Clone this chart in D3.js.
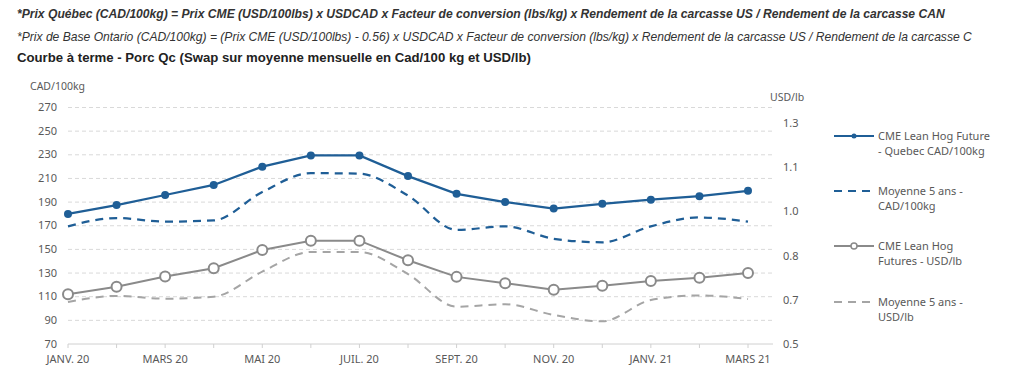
<!DOCTYPE html>
<html>
<head>
<meta charset="utf-8">
<script src="https://cdn.jsdelivr.net/npm/d3@7"></script>
<style>
  body { margin: 0; background: #fff; }
  svg { display: block; }
</style>
</head>
<body>
<svg id="chart"></svg>
<script>
// months, Jan 2020 -> Mar 2021
const months = ["2020-01", "2020-02", "2020-03", "2020-04", "2020-05", "2020-06", "2020-07", "2020-08",
    "2020-09", "2020-10", "2020-11", "2020-12", "2021-01", "2021-02", "2021-03"];
const monthLabels = ["JANV. 20", "", "MARS 20", "", "MAI 20", "", "JUIL. 20", "",
    "SEPT. 20", "", "NOV. 20", "", "JANV. 21", "", "MARS 21"];

// CAD/100kg (left axis)
const quebecCad = [180, 187.5, 196, 204.5, 220, 229.5, 229.5, 212, 197, 190, 184.5, 188.5, 192, 195, 199.5];
const avg5Cad = [169.5, 176.5, 173.5, 174.5, 198.5, 214.5, 214, 195.5, 166.5, 169.5, 159, 156, 169.5, 177, 173.5];

// USD/lb (right axis)
const cmeUsd = [0.68, 0.707, 0.744, 0.774, 0.84, 0.874, 0.874, 0.803, 0.743, 0.72, 0.696, 0.711, 0.728, 0.74, 0.757];
const avg5Usd = [0.652, 0.674, 0.664, 0.671, 0.762, 0.833, 0.833, 0.753, 0.635, 0.644, 0.605, 0.582, 0.659, 0.676, 0.663];

const leftTicks = [70, 90, 110, 130, 150, 170, 190, 210, 230, 250, 270];
const rightTicks = [0.5, 0.66, 0.82, 0.98, 1.14, 1.3];

const titles = [
    "*Prix Québec (CAD/100kg) = Prix CME (USD/100lbs) x USDCAD x Facteur de conversion (lbs/kg) x Rendement de la carcasse US / Rendement de la carcasse CAN",
    "*Prix de Base Ontario (CAD/100kg) = (Prix CME (USD/100lbs) - 0.56) x USDCAD x Facteur de conversion (lbs/kg) x Rendement de la carcasse US / Rendement de la carcasse C",
    "Courbe à terme - Porc Qc (Swap sur moyenne mensuelle en Cad/100 kg et USD/lb)"
];

const W = 1024, H = 376;
const blue = "#1f5e96", grey = "#8a8a8a", greyDash = "#a5a5a5", txt = "#595959";
const chartFont = "'Noto Sans', sans-serif";

const svg = d3.select("#chart").attr("width", W).attr("height", H);

// header texts, scaled to the width they take in the original
const titleStyle = [
    { y: 18, w: 928, weight: "bold", style: "italic" },
    { y: 41, w: 955, weight: "normal", style: "italic" },
    { y: 62, w: 514, weight: "bold", style: "normal" }
];
titles.forEach(function (t, i) {
    const s = titleStyle[i];
    const el = svg.append("text")
        .attr("x", 17).attr("y", s.y)
        .style("font-family", "'Liberation Sans', Arial, sans-serif")
        .style("font-weight", s.weight)
        .style("font-style", s.style)
        .style("font-size", "12px")
        .attr("fill", i == 2 ? "#222" : "#333")
        .text(t);
    const len = el.node().getComputedTextLength();
    el.style("font-size", (12 * s.w / len).toFixed(2) + "px");
});

// scales
const x = d3.scalePoint().domain(months).range([68, 748]);
const yL = d3.scaleLinear().domain([70, 270]).range([344, 107.5]);
const yR = d3.scaleLinear().domain([0.5, 1.3]).range([344, 123]);
const gridRight = 773;

const g = svg.append("g");

// gridlines
g.selectAll(".grid")
    .data(leftTicks.slice(1))
    .enter().append("line")
    .attr("x1", x(months[0])).attr("x2", gridRight)
    .attr("y1", d => yL(d)).attr("y2", d => yL(d))
    .attr("stroke", "#d9d9d9")
    .attr("stroke-width", 1)
    .attr("stroke-dasharray", "4,3");

// baseline + x ticks
g.append("line")
    .attr("x1", x(months[0])).attr("x2", gridRight)
    .attr("y1", yL(70)).attr("y2", yL(70))
    .attr("stroke", "#d0d0d0");
g.selectAll(".xtick")
    .data(months)
    .enter().append("line")
    .attr("x1", d => x(d)).attr("x2", d => x(d))
    .attr("y1", yL(70)).attr("y2", yL(70) + 4)
    .attr("stroke", "#d0d0d0");
g.selectAll(".xlabel")
    .data(months.filter((d, i) => monthLabels[i] != ""))
    .enter().append("text")
    .attr("x", d => x(d))
    .attr("y", 363)
    .attr("text-anchor", "middle")
    .style("font-family", chartFont).style("font-size", "11px")
    .attr("fill", txt)
    .text(d => monthLabels[months.indexOf(d)]);

// left axis labels
g.selectAll(".ylab")
    .data(leftTicks)
    .enter().append("text")
    .attr("x", 57).attr("y", d => yL(d) + 3.5)
    .attr("text-anchor", "end")
    .style("font-family", chartFont).style("font-size", "11px")
    .attr("fill", txt)
    .text(d => d);
svg.append("text")
    .attr("x", 30).attr("y", 90)
    .style("font-family", chartFont).style("font-size", "10.5px")
    .attr("fill", txt)
    .text("CAD/100kg");

// right axis labels
const fmt = d3.format(".1f");
g.selectAll(".yrlab")
    .data(rightTicks)
    .enter().append("text")
    .attr("x", 783).attr("y", d => yR(d) + 4)
    .style("font-family", chartFont).style("font-size", "11px")
    .attr("fill", txt)
    .text(d => fmt(d));
svg.append("text")
    .attr("x", 770).attr("y", 101)
    .style("font-family", chartFont).style("font-size", "10.5px")
    .attr("fill", txt)
    .text("USD/lb");

// lines
const lineL = d3.line().x((d, i) => x(months[i])).y(d => yL(d));
const lineLs = d3.line().x((d, i) => x(months[i])).y(d => yL(d)).curve(d3.curveMonotoneX);
const lineR = d3.line().x((d, i) => x(months[i])).y(d => yR(d));
const lineRs = d3.line().x((d, i) => x(months[i])).y(d => yR(d)).curve(d3.curveMonotoneX);

g.append("path").datum(avg5Usd)
    .attr("d", lineRs).attr("fill", "none")
    .attr("stroke", greyDash).attr("stroke-width", 2)
    .attr("stroke-dasharray", "8,6");
g.append("path").datum(avg5Cad)
    .attr("d", lineLs).attr("fill", "none")
    .attr("stroke", blue).attr("stroke-width", 2.25)
    .attr("stroke-dasharray", "8,6");

g.append("path").datum(cmeUsd)
    .attr("d", lineR).attr("fill", "none")
    .attr("stroke", grey).attr("stroke-width", 2);
g.selectAll(".cmeDot")
    .data(cmeUsd)
    .enter().append("circle")
    .attr("cx", (d, i) => x(months[i])).attr("cy", d => yR(d))
    .attr("r", 5)
    .attr("fill", "#fff").attr("stroke", grey).attr("stroke-width", 2);

g.append("path").datum(quebecCad)
    .attr("d", lineL).attr("fill", "none")
    .attr("stroke", blue).attr("stroke-width", 2.25);
g.selectAll(".qcDot")
    .data(quebecCad)
    .enter().append("circle")
    .attr("cx", (d, i) => x(months[i])).attr("cy", d => yL(d))
    .attr("r", 4)
    .attr("fill", blue);

// legend
const legendItems = [
    { lines: ["CME Lean Hog Future", "- Quebec CAD/100kg"], color: blue, dash: null, marker: "dot", y: 136 },
    { lines: ["Moyenne 5 ans -", "CAD/100kg"], color: blue, dash: "8,6", marker: null, y: 191 },
    { lines: ["CME Lean Hog", "Futures - USD/lb"], color: grey, dash: null, marker: "ring", y: 246 },
    { lines: ["Moyenne 5 ans -", "USD/lb"], color: greyDash, dash: "8,6", marker: null, y: 302 }
];
const leg = svg.append("g");
legendItems.forEach(function (it) {
    leg.append("line")
        .attr("x1", 834).attr("x2", 874)
        .attr("y1", it.y).attr("y2", it.y)
        .attr("stroke", it.color).attr("stroke-width", 2)
        .attr("stroke-dasharray", it.dash);
    if (it.marker == "dot") {
        leg.append("circle").attr("cx", 854).attr("cy", it.y).attr("r", 2.5).attr("fill", it.color);
    } else if (it.marker == "ring") {
        leg.append("circle").attr("cx", 854).attr("cy", it.y).attr("r", 3)
            .attr("fill", "#fff").attr("stroke", it.color).attr("stroke-width", 1.5);
    }
    it.lines.forEach(function (l, j) {
        leg.append("text")
            .attr("x", 878).attr("y", it.y + 4 + j * 15)
            .style("font-family", chartFont).style("font-size", "11px")
            .attr("fill", txt)
            .text(l);
    });
});
</script>
</body>
</html>
